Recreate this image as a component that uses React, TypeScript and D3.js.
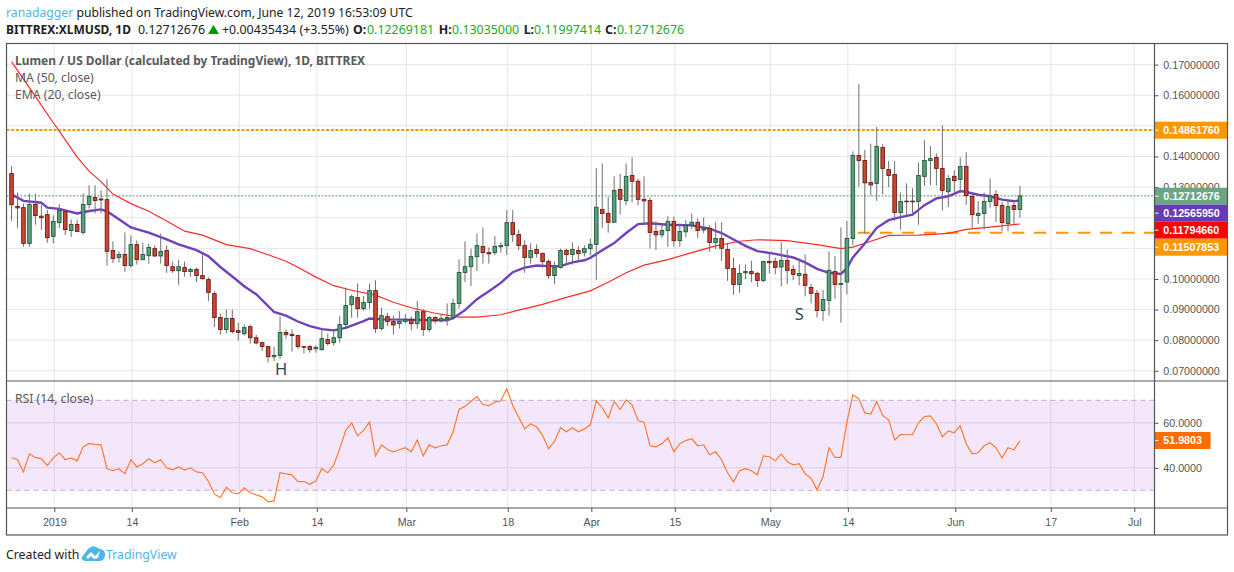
import { useEffect, useRef } from 'react';
import * as d3 from 'd3';

const WIDTH = 1234;
const HEIGHT = 572;

// daily bars, first one is 25 Dec 2018
const firstBar = Date.UTC(2018, 11, 25);
const DAY = 86400000;

const opens = [
  .1344, .1237, .1233, .1116, .1243, .1205, .1210, .1139, .1184, .1220,
  .1158, .1178, .1152, .1243, .1266, .1261, .1259, .1093, .1070, .1080,
  .1044, .1112, .1063, .1076, .1099, .1075, .1093, .1040, .1027, .1037,
  .1024, .1031, .1011, .0998, .0952, .0874, .0835, .0871, .0831, .0821,
  .0844, .0808, .0792, .0779, .0746, .0750, .0825, .0819, .0815, .0779,
  .0779, .0772, .0769, .0802, .0792, .0808, .0851, .0916, .0939, .0903,
  .0923, .0962, .0838, .0877, .0861, .0854, .0861, .0867, .0854, .0893,
  .0835, .0874, .0864, .0870, .0874, .0920, .1021, .1040, .1073, .1106,
  .1086, .1086, .1105, .1109, .1184, .1145, .1109, .1070, .1096, .1083,
  .1057, .1011, .1037, .1093, .1080, .1093, .1086, .1099, .1113, .1227,
  .1214, .1185, .1292, .1256, .1338, .1319, .1260, .1256, .1155, .1144,
  .1158, .1188, .1125, .1154, .1176, .1185, .1160, .1165, .1119, .1132,
  .1096, .1034, .0982, .1020, .1024, .1018, .0995, .1057, .1057, .1039,
  .1060, .1031, .1011, .1015, .0972, .0953, .0897, .0930, .1024, .0982,
  .0990, .1132, .1403, .1387, .1315, .1312, .1429, .1357, .1341, .1217,
  .1254, .1254, .1253, .1335, .1387, .1397, .1361, .1285, .1335, .1325,
  .1367, .1269, .1207, .1214, .1253, .1276, .1240, .1181, .1240, .12269,
];

const closes = [
  .1243, .1232, .1116, .1243, .1207, .1200, .1135, .1188, .1224, .1161,
  .1178, .1155, .1243, .1269, .1256, .1258, .1090, .1067, .1080, .1044,
  .1112, .1063, .1080, .1103, .1075, .1090, .1044, .1027, .1040, .1024,
  .1031, .1011, .1001, .0956, .0874, .0835, .0871, .0828, .0825, .0841,
  .0808, .0791, .0779, .0746, .0750, .0825, .0818, .0815, .0779, .0777,
  .0769, .0776, .0805, .0789, .0808, .0851, .0913, .0942, .0903, .0923,
  .0962, .0838, .0880, .0861, .0850, .0861, .0867, .0854, .0893, .0835,
  .0874, .0864, .0871, .0874, .0920, .1021, .1040, .1073, .1109, .1086,
  .1082, .1106, .1109, .1184, .1145, .1109, .1070, .1093, .1083, .1057,
  .1011, .1037, .1093, .1080, .1096, .1083, .1099, .1113, .1234, .1214,
  .1185, .1289, .1260, .1335, .1319, .1260, .1255, .1152, .1144, .1158,
  .1188, .1125, .1155, .1175, .1185, .1158, .1164, .1119, .1132, .1100,
  .1034, .0982, .1018, .1024, .1017, .0995, .1057, .1053, .1038, .1060,
  .1028, .1015, .1018, .0979, .0953, .0897, .0933, .1028, .0982, .0985,
  .1132, .1403, .1387, .1314, .1307, .1433, .1361, .1338, .1217, .1253,
  .1252, .1252, .1338, .1387, .1393, .1361, .1289, .1328, .1321, .1367,
  .1272, .1210, .1214, .1253, .1271, .1240, .1184, .1236, .1227, .12713,
];

const highs = [
  .1368, .1282, .1246, .1279, .1279, .1243, .1225, .1208, .1244, .1225,
  .1194, .1194, .1280, .1306, .1306, .1290, .1326, .1123, .1090, .1152,
  .1142, .1126, .1119, .1116, .1110, .1148, .1110, .1057, .1063, .1057,
  .1037, .1037, .1086, .1005, .0960, .0887, .0900, .0900, .0857, .0851,
  .0851, .0818, .0795, .0782, .0779, .0878, .0835, .0835, .0818, .0781,
  .0784, .0784, .0838, .0822, .0835, .0878, .0972, .0949, .0985, .0944,
  .0985, .0996, .0906, .0889, .0881, .0895, .0885, .0878, .0928, .0901,
  .0880, .0878, .0884, .0920, .0936, .1064, .1123, .1099, .1148, .1168,
  .1103, .1140, .1120, .1225, .1225, .1161, .1126, .1116, .1113, .1086,
  .1064, .1057, .1099, .1099, .1120, .1107, .1110, .1132, .1362, .1377,
  .1268, .1335, .1343, .1377, .1397, .1328, .1335, .1266, .1188, .1181,
  .1205, .1203, .1181, .1192, .1214, .1198, .1201, .1176, .1185, .1185,
  .1116, .1070, .1047, .1047, .1060, .1023, .1059, .1083, .1070, .1119,
  .1096, .1045, .1067, .1080, .0985, .0964, .0964, .1090, .1075, .1168,
  .1189, .1417, .1636, .1421, .1442, .1496, .1440, .1386, .1385, .1282,
  .1312, .1296, .1381, .1453, .1434, .1410, .1502, .1339, .1355, .1397,
  .1414, .1279, .1254, .1282, .1328, .1290, .1252, .1257, .1250, .13035,
];

const lows = [
  .1190, .1167, .1105, .1105, .1177, .1160, .1118, .1116, .1166, .1144,
  .1137, .1153, .1144, .1230, .1214, .1214, .1043, .1052, .1054, .1023,
  .1037, .1047, .1061, .1050, .1072, .1050, .1020, .1020, .0981, .1007,
  .1007, .0990, .0998, .0928, .0843, .0818, .0822, .0822, .0799, .0815,
  .0789, .0786, .0765, .0727, .0732, .0739, .0805, .0763, .0772, .0756,
  .0759, .0759, .0766, .0782, .0782, .0792, .0843, .0873, .0873, .0896,
  .0903, .0824, .0832, .0846, .0818, .0838, .0854, .0832, .0838, .0814,
  .0827, .0854, .0857, .0847, .0867, .0903, .0990, .0977, .1026, .1050,
  .1050, .1078, .1086, .1079, .1121, .1094, .1020, .1050, .1070, .1037,
  .1000, .0983, .1034, .1047, .1047, .1056, .1073, .1077, .0997, .1167,
  .1151, .1185, .1211, .1241, .1250, .1241, .1181, .1099, .1094, .1134,
  .1105, .1105, .1105, .1136, .1162, .1134, .1149, .1089, .1097, .1059,
  .0994, .0948, .0955, .0999, .0989, .0974, .0989, .1018, .1015, .0975,
  .0982, .0996, .0979, .0943, .0920, .0874, .0863, .0880, .0935, .0857,
  .0950, .1110, .1301, .1148, .1274, .1255, .1277, .1299, .1190, .1161,
  .1207, .1214, .1177, .1304, .1306, .1305, .1224, .1235, .1284, .1281,
  .1242, .1165, .1180, .1161, .1233, .1186, .1156, .1156, .1179, .11997,
];

const maBars = [
  0, 4, 7, 8, 11, 13, 15, 17, 20, 23, 26, 29, 32, 36, 40, 43, 46, 48, 51, 54, 57, 61, 64, 67, 71, 75, 78, 82, 85,
  89, 93, 97, 100, 103, 106, 110, 114, 118, 122, 125, 130, 135, 139, 141, 144, 147, 152, 157, 160, 164, 169,
];
const maValues = [
  .1710, .1596, .1510, .1483, .1398, .1352, .1318, .1277, .1246, .1221, .1189, .1156, .1143, .1112, .1099, .1079,
  .1058, .1038, .1006, .0978, .0963, .0947, .0924, .0906, .0888, .0875, .0875, .0883, .0898, .0917, .0940, .0961,
  .0989, .1020, .1045, .1063, .1086, .1108, .1123, .1128, .1125, .1112, .1099, .1104, .1123, .1142, .1143, .1149,
  .1162, .1169, .11795,
];

const emaBars = [
  0, 2, 5, 6, 8, 11, 13, 15, 16, 18, 20, 23, 26, 28, 31, 33, 35, 37, 39, 41, 44, 46, 48, 50, 52, 54, 56, 59, 60,
  62, 66, 70, 73, 74, 76, 78, 80, 82, 84, 86, 88, 90, 92, 94, 96, 97, 99, 101, 103, 105, 107, 110, 114, 117, 119,
  121, 123, 125, 128, 131, 133, 135, 137, 139, 140, 141, 143, 145, 147, 149, 151, 153, 155, 157, 159, 160, 162,
  164, 166, 168, 169,
];
const emaValues = [
  .1276, .1255, .1249, .1233, .1229, .1214, .1222, .1227, .1221, .1195, .1168, .1151, .1129, .1113, .1094, .1074,
  .1039, .1008, .0976, .0950, .0892, .0880, .0861, .0846, .0836, .0832, .0840, .0862, .0871, .0868, .0867, .0865,
  .0865, .0872, .0898, .0934, .0960, .0987, .1022, .1037, .1044, .1042, .1042, .1054, .1061, .1069, .1094, .1117,
  .1150, .1179, .1182, .1177, .1175, .1164, .1150, .1129, .1108, .1091, .1082, .1070, .1054, .1033, .1020, .1016,
  .1035, .1070, .1116, .1167, .1192, .1202, .1210, .1241, .1263, .1270, .1287, .1284, .1275, .1270, .1259, .1254,
  .12566,
];

const rsiValues = [
  44.6, 43.6, 38.2, 46.2, 44.6, 44.0, 41.0, 44.4, 46.7, 43.6,
  44.4, 43.1, 49.3, 50.7, 50.4, 50.2, 39.6, 38.7, 39.6, 37.3,
  43.6, 40.4, 41.8, 44.0, 42.2, 43.6, 40.0, 39.1, 40.4, 39.0,
  40.0, 38.2, 37.8, 33.9, 28.4, 26.7, 31.4, 28.9, 28.4, 31.1,
  28.9, 28.0, 27.1, 24.9, 25.3, 37.8, 37.3, 36.9, 33.9, 33.9,
  32.7, 34.1, 39.6, 37.8, 41.3, 48.4, 56.6, 60.0, 54.2, 56.6,
  60.3, 45.3, 50.2, 48.1, 47.1, 48.0, 48.9, 47.1, 52.4, 45.3,
  50.2, 48.9, 49.8, 50.2, 55.9, 65.9, 67.3, 69.6, 71.6, 68.1,
  67.6, 69.2, 69.8, 75.1, 67.7, 62.5, 57.3, 59.6, 58.1, 54.4,
  48.4, 51.7, 57.8, 56.0, 57.8, 56.0, 57.3, 59.1, 69.8, 66.7,
  62.2, 69.5, 65.9, 70.2, 68.0, 61.0, 60.3, 49.8, 49.3, 50.7,
  53.3, 47.1, 50.7, 52.1, 52.9, 49.8, 50.2, 45.8, 47.1, 43.6,
  37.8, 33.8, 38.7, 39.6, 38.7, 36.9, 45.3, 44.9, 43.1, 46.2,
  42.7, 41.3, 41.8, 37.3, 35.4, 30.2, 36.1, 48.9, 44.6, 44.6,
  60.3, 72.4, 70.7, 64.4, 63.9, 69.5, 63.3, 61.3, 52.4, 54.8,
  54.7, 54.7, 60.0, 62.8, 63.1, 59.6, 53.8, 56.4, 55.6, 58.7,
  50.7, 46.2, 46.7, 49.8, 51.1, 48.9, 44.4, 48.9, 48.0, 51.98,
];

// 0.11, 0.12 and 0.15 sit behind the price tags
const priceTicks = [0.07, 0.08, 0.09, 0.1, 0.13, 0.14, 0.16, 0.17];
const priceGrid = [0.07, 0.08, 0.09, 0.1, 0.11, 0.12, 0.13, 0.14, 0.15, 0.16, 0.17];
const rsiTicks = [40, 60];
const tickDates = [
  Date.UTC(2019, 0, 1), Date.UTC(2019, 0, 14), Date.UTC(2019, 1, 1), Date.UTC(2019, 1, 14), Date.UTC(2019, 2, 1),
  Date.UTC(2019, 2, 18), Date.UTC(2019, 3, 1), Date.UTC(2019, 3, 15), Date.UTC(2019, 4, 1), Date.UTC(2019, 4, 14),
  Date.UTC(2019, 5, 1), Date.UTC(2019, 5, 17), Date.UTC(2019, 6, 1),
];
const tickLabels = ['2019', '14', 'Feb', '14', 'Mar', '18', 'Apr', '15', 'May', '14', 'Jun', '17', 'Jul'];

const resistance = 0.1486176;
const support = 0.11507853;
const lastClose = 0.12712676;

const priceTags = [
  { text: '0.14861760', color: '#ff9800', y: 130.2 },
  { text: '0.12712676', color: '#6ba583', y: 196.2 },
  { text: '0.12565950', color: '#673ab7', y: 213.2 },
  { text: '0.11794660', color: '#ff0000', y: 230.2 },
  { text: '0.11507853', color: '#ff9800', y: 247.2 },
];

const UP = '#5b9e7c';
const DOWN = '#cc4433';
const UP_DARK = '#1f5b3c';
const DOWN_DARK = '#6e1c12';
const GRID = '#e6e6e6';
const AXIS = '#555555';
const FONT = '"Noto Sans", "Open Sans", sans-serif';
const AXIS_FONT = '"Liberation Sans", Arial, sans-serif';

export default function App() {
  const svgRef = useRef<SVGSVGElement>(null);

  useEffect(() => {
    if (!svgRef.current) return;
    const svg = d3.select(svgRef.current);
    svg.selectAll('*').remove();

    const left = 6.5;
    const axisX = 1154.5;
    const right = 1227.5;
    const top = 43.5;
    const priceBottom = 381;
    const rsiBottom = 508;
    const bottom = 535;

    const x = d3.scaleUtc()
      .domain([tickDates[0], tickDates[tickDates.length - 1]])
      .range([54.3, 1134.3]);
    const barX = (i: number) => x(firstBar + i * DAY) - 1;
    const y = d3.scaleLinear().domain([0.07, 0.17]).range([370.8, 64.6]);
    const yRsi = d3.scaleLinear().domain([30, 70]).range([490.3, 400.3]);

    // vertical grid
    svg.append('g').selectAll('line')
      .data(tickDates)
      .join('line')
      .attr('x1', (d) => x(d))
      .attr('x2', (d) => x(d))
      .attr('y1', top)
      .attr('y2', rsiBottom)
      .attr('stroke', GRID);

    // horizontal grid
    svg.append('g').selectAll('line')
      .data(priceGrid)
      .join('line')
      .attr('x1', left)
      .attr('x2', axisX)
      .attr('y1', (d) => y(d))
      .attr('y2', (d) => y(d))
      .attr('stroke', GRID);

    // RSI band
    svg.append('rect')
      .attr('x', left)
      .attr('y', yRsi(70))
      .attr('width', axisX - left)
      .attr('height', yRsi(30) - yRsi(70))
      .attr('fill', '#a337e6')
      .attr('fill-opacity', 0.12);

    svg.append('g').selectAll('line')
      .data(rsiTicks)
      .join('line')
      .attr('x1', left)
      .attr('x2', axisX)
      .attr('y1', (d) => yRsi(d))
      .attr('y2', (d) => yRsi(d))
      .attr('stroke', '#dccfe4');

    svg.append('g').selectAll('line')
      .data([30, 70])
      .join('line')
      .attr('x1', left)
      .attr('x2', axisX)
      .attr('y1', (d) => yRsi(d))
      .attr('y2', (d) => yRsi(d))
      .attr('stroke', '#bcaec4')
      .attr('stroke-dasharray', '5,4');

    // Level lines
    svg.append('line')
      .attr('x1', left)
      .attr('x2', axisX)
      .attr('y1', y(resistance))
      .attr('y2', y(resistance))
      .attr('stroke', '#ff9800')
      .attr('stroke-width', 2)
      .attr('stroke-dasharray', '3,1.7');

    svg.append('line')
      .attr('x1', barX(141) + 5)
      .attr('x2', axisX)
      .attr('y1', y(support))
      .attr('y2', y(support))
      .attr('stroke', '#ff9800')
      .attr('stroke-width', 2)
      .attr('stroke-dasharray', '12.5,9.5');

    svg.append('line')
      .attr('x1', left)
      .attr('x2', axisX)
      .attr('y1', y(lastClose))
      .attr('y2', y(lastClose))
      .attr('stroke', '#4f9a74')
      .attr('stroke-dasharray', '2,1.5');

    // MA + EMA
    const maLine = d3.line<number>()
      .x((d) => barX(d))
      .y((_, i) => y(maValues[i]));
    const emaLine = d3.line<number>()
      .x((d) => barX(d))
      .y((_, i) => y(emaValues[i]));

    svg.append('path')
      .attr('d', maLine(maBars))
      .attr('fill', 'none')
      .attr('stroke', '#ff2a2a')
      .attr('stroke-width', 1.2);

    svg.append('path')
      .attr('d', emaLine(emaBars))
      .attr('fill', 'none')
      .attr('stroke', '#6f42bd')
      .attr('stroke-width', 2.4);

    // Candles
    const bars = d3.range(opens.length);
    svg.append('g').selectAll('line')
      .data(bars)
      .join('line')
      .attr('x1', (i) => barX(i))
      .attr('x2', (i) => barX(i))
      .attr('y1', (i) => y(highs[i]))
      .attr('y2', (i) => y(lows[i]))
      .attr('stroke', '#707070');

    svg.append('g').selectAll('rect')
      .data(bars)
      .join('rect')
      .attr('x', (i) => barX(i) - 1.8)
      .attr('width', 3.6)
      .attr('y', (i) => y(Math.max(opens[i], closes[i])))
      .attr('height', (i) => Math.max(0.4, Math.abs(y(opens[i]) - y(closes[i]))))
      .attr('fill', (i) => (closes[i] >= opens[i] ? UP : DOWN))
      .attr('stroke', (i) => (closes[i] >= opens[i] ? UP_DARK : DOWN_DARK))
      .attr('stroke-width', 0.9);

    // RSI line
    const rsiLine = d3.line<number>()
      .x((_, i) => barX(i))
      .y((d) => yRsi(d));

    svg.append('path')
      .attr('d', rsiLine(rsiValues))
      .attr('fill', 'none')
      .attr('stroke', '#ff7a33')
      .attr('stroke-width', 1.2);

    // H and S
    svg.append('text')
      .attr('x', barX(45) + 1)
      .attr('y', 375)
      .attr('text-anchor', 'middle')
      .style('font', `16.5px ${FONT}`)
      .style('fill', '#1f4a5e')
      .text('H');

    svg.append('text')
      .attr('x', barX(132))
      .attr('y', 320)
      .attr('text-anchor', 'middle')
      .style('font', `16.5px ${FONT}`)
      .style('fill', '#1f4a5e')
      .text('S');

    // Axes
    const priceAxis = svg.append('g')
      .attr('transform', `translate(${axisX},0)`)
      .call(d3.axisRight(y).tickValues(priceTicks).tickFormat(d3.format('.8f') as any).tickSize(4).tickPadding(4.8));
    priceAxis.select('.domain').remove();
    priceAxis.selectAll('line').attr('stroke', AXIS);
    priceAxis.selectAll('text').style('fill', AXIS).style('font', `10.7px ${AXIS_FONT}`);

    const rsiAxis = svg.append('g')
      .attr('transform', `translate(${axisX},0)`)
      .call(d3.axisRight(yRsi).tickValues(rsiTicks).tickFormat(d3.format('.4f') as any).tickSize(4).tickPadding(4.8));
    rsiAxis.select('.domain').remove();
    rsiAxis.selectAll('line').attr('stroke', AXIS);
    rsiAxis.selectAll('text').style('fill', AXIS).style('font', `10.7px ${AXIS_FONT}`);

    const timeAxis = svg.append('g')
      .attr('transform', `translate(0,${rsiBottom})`)
      .call(d3.axisBottom(x).tickValues(tickDates as any).tickFormat(((_: any, i: number) => tickLabels[i]) as any).tickSize(4).tickPadding(6.5));
    timeAxis.select('.domain').remove();
    timeAxis.selectAll('line').attr('stroke', AXIS);
    timeAxis.selectAll('text').style('fill', AXIS).style('font', `10.7px ${AXIS_FONT}`);

    // Price tags
    const tags = svg.append('g').selectAll('g')
      .data(priceTags)
      .join('g')
      .attr('transform', (d) => `translate(${axisX},${d.y})`);
    tags.append('rect')
      .attr('y', -8.5)
      .attr('width', right - axisX)
      .attr('height', 17)
      .attr('fill', (d) => d.color);
    tags.append('line')
      .attr('x2', 4)
      .attr('stroke', '#fff');
    tags.append('text')
      .attr('x', 8.8)
      .attr('dy', '0.35em')
      .style('fill', '#fff')
      .style('font', `bold 10.7px ${AXIS_FONT}`)
      .text((d) => d.text);

    const rsiTag = svg.append('g').attr('transform', `translate(${axisX},440.5)`);
    rsiTag.append('rect').attr('y', -8.5).attr('width', 56).attr('height', 17).attr('fill', '#ff6d00');
    rsiTag.append('line').attr('x2', 4).attr('stroke', '#fff');
    rsiTag.append('text')
      .attr('x', 8.8)
      .attr('dy', '0.35em')
      .style('fill', '#fff')
      .style('font', `bold 10.7px ${AXIS_FONT}`)
      .text('51.9803');

    // Frame
    const frame = svg.append('g').attr('stroke', AXIS).attr('stroke-width', 1.2).attr('fill', 'none');
    frame.append('rect').attr('x', left).attr('y', top).attr('width', right - left).attr('height', bottom - top);
    frame.append('line').attr('x1', axisX).attr('x2', axisX).attr('y1', top).attr('y2', bottom);
    frame.append('line').attr('x1', left).attr('x2', right).attr('y1', priceBottom).attr('y2', priceBottom);
    frame.append('line').attr('x1', left).attr('x2', right).attr('y1', rsiBottom).attr('y2', rsiBottom);

    // Pane legends
    const legend = svg.append('g').style('font', `12.2px ${FONT}`).style('fill', '#5a5a5a');
    legend.append('text').attr('x', 15).attr('y', 65).style('font-size', '11.95px').style('font-weight', 'bold').text('Lumen / US Dollar (calculated by TradingView), 1D, BITTREX');
    legend.append('text').attr('x', 15).attr('y', 82).text('MA (50, close)');
    legend.append('text').attr('x', 15).attr('y', 99).text('EMA (20, close)');
    legend.append('text').attr('x', 15).attr('y', 403).text('RSI (14, close)');

    // Header
    const line1 = svg.append('text').attr('x', 6).attr('y', 17).style('font', `12.2px ${FONT}`).style('fill', '#222');
    line1.append('tspan').style('fill', '#4db6e8').text('ranadagger');
    line1.append('tspan').text(' published on TradingView.com, June 12, 2019 16:53:09 UTC');

    const head = svg.append('g').style('font', `12.4px ${FONT}`).style('fill', '#222');
    head.append('text').attr('x', 6).attr('y', 34).style('font-weight', 'bold').style('font-size', '12px').text('BITTREX:XLMUSD, 1D');
    head.append('text').attr('x', 138).attr('y', 34).text('0.12712676');
    head.append('path').attr('d', 'M208 34 L219 34 L213.5 25 Z').attr('fill', '#009900');
    head.append('text').attr('x', 222).attr('y', 34).text('+0.00435434 (+3.55%)');
    const ohlcKeys = ['O:', 'H:', 'L:', 'C:'];
    const ohlcValues = ['0.12269181', '0.13035000', '0.11997414', '0.12712676'];
    const keyX = [353, 438.7, 523.7, 605];
    const valueX = [367, 452, 534, 617];
    ohlcKeys.forEach((k, i) => {
      head.append('text').attr('x', keyX[i]).attr('y', 34).style('font-weight', 'bold').text(k);
      head.append('text').attr('x', valueX[i]).attr('y', 34).style('fill', '#22aa22').text(ohlcValues[i]);
    });

    // Footer
    svg.append('text').attr('x', 6).attr('y', 559).style('font', `12.3px ${FONT}`).style('fill', '#222').text('Created with');
    svg.append('path')
      .attr('d', 'M82 557 L88 549 Q92 545 96 547 L100 549 Q106 550 105 556 Q104 561 99 561 L86 561 Q81 561 82 557 Z M86 557 L91 552 L95 556 L100 551 L98 558 L94 559 L91 556 L88 559 Z')
      .attr('fill', '#4db6e8')
      .attr('fill-rule', 'evenodd');
    svg.append('text').attr('x', 106).attr('y', 559).style('font', `12.3px ${FONT}`).style('fill', '#4db6e8').text('TradingView');
  }, []);

  return (
    <svg
      ref={svgRef}
      width={WIDTH}
      height={HEIGHT}
      style={{ position: 'absolute', left: 0, top: 0, background: '#fff' }}
    />
  );
}
